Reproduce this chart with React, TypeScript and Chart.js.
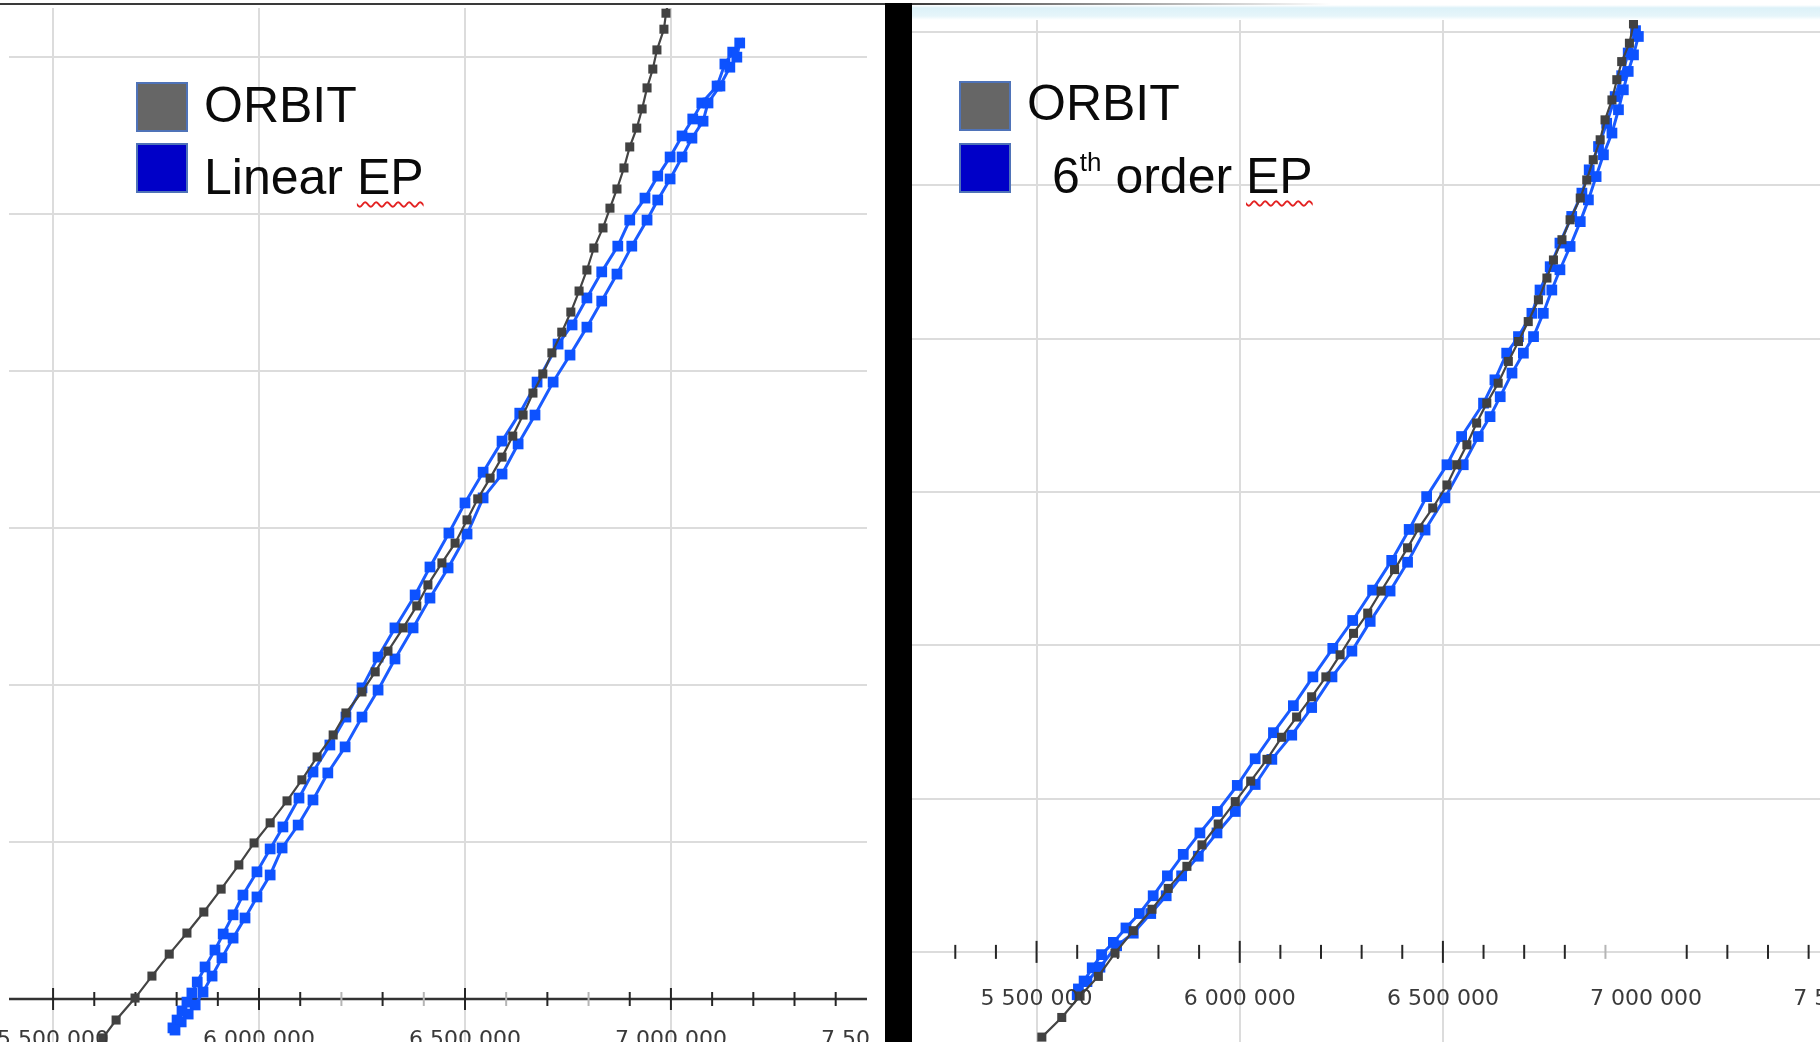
import React, { useEffect, useRef } from 'react';
import { Chart, registerables } from 'chart.js';

Chart.register(...registerables);

// ---------------- LEFT PANEL : ORBIT vs Linear EP ----------------
const LEFT_ORBIT_X = [
  5621000, 5653000, 5699000, 5740000, 5782000, 5825000, 5866000, 5908000, 5951000, 5988000,
  6027000, 6068000, 6104000, 6141000, 6180000, 6211000, 6250000, 6282000, 6313000, 6350000,
  6383000, 6410000, 6444000, 6476000, 6505000, 6531000, 6561000, 6590000, 6616000, 6641000,
  6665000, 6689000, 6711000, 6735000, 6757000, 6777000, 6796000, 6813000, 6835000, 6852000,
  6869000, 6886000, 6900000, 6917000, 6930000, 6942000, 6956000, 6966000, 6983000, 6988000, 6993000,
];
const LEFT_ORBIT_Y = [
  -124000, -67000, 3000, 73000, 143000, 210000, 277000, 350000, 427000, 497000,
  561000, 631000, 698000, 771000, 841000, 911000, 978000, 1042000, 1108000, 1182000,
  1252000, 1319000, 1389000, 1452000, 1526000, 1593000, 1659000, 1726000, 1793000, 1860000,
  1930000, 1991000, 2058000, 2124000, 2188000, 2255000, 2322000, 2392000, 2456000, 2519000,
  2580000, 2647000, 2714000, 2774000, 2835000, 2902000, 2962000, 3023000, 3089000, 3140000, 3172000,
];
// Linear EP: closed thin loop, up one edge then down the other
const LEFT_EP_UP_X = [
  5791000, 5801000, 5813000, 5825000, 5837000, 5850000, 5869000, 5893000, 5913000, 5937000,
  5961000, 5995000, 6027000, 6058000, 6097000, 6131000, 6172000, 6211000, 6250000, 6289000,
  6330000, 6379000, 6415000, 6461000, 6500000, 6544000, 6590000, 6633000, 6675000, 6726000,
  6760000, 6796000, 6832000, 6871000, 6900000, 6937000, 6968000, 6998000, 7027000, 7053000,
  7075000, 7112000, 7131000, 7150000, 7167000,
];
const LEFT_EP_UP_Y = [
  -92000, -67000, -38000, -10000, 19000, 54000, 102000, 156000, 207000, 268000,
  331000, 405000, 478000, 548000, 640000, 723000, 809000, 898000, 991000, 1089000,
  1182000, 1287000, 1376000, 1484000, 1580000, 1678000, 1777000, 1866000, 1965000, 2086000,
  2147000, 2233000, 2316000, 2398000, 2481000, 2551000, 2621000, 2682000, 2749000, 2803000,
  2854000, 2908000, 2978000, 3016000, 3045000,
];
const LEFT_EP_DOWN_X = [
  7160000, 7143000, 7119000, 7090000, 7078000, 7051000, 7027000, 6998000, 6968000, 6942000,
  6905000, 6869000, 6832000, 6796000, 6755000, 6714000, 6670000, 6629000, 6590000, 6544000,
  6505000, 6459000, 6415000, 6374000, 6330000, 6289000, 6250000, 6209000, 6167000, 6131000,
  6095000, 6056000, 6027000, 5995000, 5966000, 5937000, 5910000, 5886000, 5864000, 5845000,
  5828000, 5811000, 5796000,
];
const LEFT_EP_DOWN_Y = [
  3000000, 2968000, 2908000, 2854000, 2796000, 2742000, 2682000, 2612000, 2545000, 2481000,
  2398000, 2309000, 2223000, 2140000, 2051000, 1965000, 1860000, 1768000, 1672000, 1596000,
  1481000, 1373000, 1277000, 1182000, 1083000, 984000, 898000, 803000, 720000, 634000,
  554000, 481000, 395000, 325000, 258000, 194000, 131000, 73000, 22000, -19000,
  -48000, -73000, -99000,
];

// ---------------- RIGHT PANEL : ORBIT vs 6th order EP ----------------
const RIGHT_ORBIT_X = [
  5513000, 5562000, 5607000, 5652000, 5693000, 5738000, 5784000, 5824000, 5870000, 5907000,
  5947000, 5989000, 6027000, 6067000, 6103000, 6140000, 6177000, 6212000, 6247000, 6280000,
  6315000, 6348000, 6381000, 6413000, 6441000, 6475000, 6510000, 6534000, 6559000, 6583000,
  6608000, 6636000, 6661000, 6686000, 6710000, 6735000, 6756000, 6772000, 6793000, 6813000,
  6838000, 6854000, 6870000, 6887000, 6899000, 6916000, 6928000, 6940000, 6959000, 6969000,
];
const RIGHT_ORBIT_Y = [
  -278000, -214000, -144000, -80000, -4000, 69000, 139000, 207000, 279000, 349000,
  417000, 490000, 557000, 628000, 700000, 766000, 832000, 897000, 969000, 1039000,
  1105000, 1177000, 1247000, 1318000, 1383000, 1448000, 1523000, 1589000, 1654000, 1725000,
  1790000, 1855000, 1926000, 1991000, 2056000, 2127000, 2198000, 2257000, 2323000, 2388000,
  2459000, 2518000, 2584000, 2649000, 2714000, 2779000, 2845000, 2904000, 2964000, 3027000,
];
const RIGHT_EP_UP_X = [
  5600000, 5617000, 5637000, 5660000, 5689000, 5720000, 5753000, 5787000, 5822000, 5861000,
  5902000, 5945000, 5994000, 6038000, 6083000, 6132000, 6180000, 6229000, 6278000, 6327000,
  6374000, 6417000, 6460000, 6510000, 6546000, 6600000, 6628000, 6657000, 6686000, 6719000,
  6739000, 6764000, 6788000, 6817000, 6842000, 6860000, 6883000, 6903000, 6924000, 6940000,
  6956000, 6974000,
];
const RIGHT_EP_UP_Y = [
  -140000, -95000, -52000, -9000, 31000, 78000, 125000, 183000, 248000, 318000,
  388000, 458000, 543000, 630000, 715000, 803000, 897000, 990000, 1081000, 1180000,
  1277000, 1378000, 1485000, 1589000, 1681000, 1790000, 1866000, 1953000, 2007000, 2083000,
  2159000, 2235000, 2312000, 2399000, 2475000, 2551000, 2627000, 2703000, 2790000, 2858000,
  2932000, 3005000,
];
const RIGHT_EP_DOWN_X = [
  6981000, 6969000, 6956000, 6944000, 6932000, 6916000, 6895000, 6877000, 6858000, 6838000,
  6813000, 6788000, 6768000, 6747000, 6723000, 6698000, 6670000, 6641000, 6616000, 6587000,
  6550000, 6505000, 6456000, 6413000, 6370000, 6321000, 6276000, 6227000, 6177000, 6128000,
  6079000, 6038000, 5989000, 5944000, 5898000, 5857000, 5819000, 5781000, 5738000, 5697000,
  5656000, 5624000, 5603000,
];
const RIGHT_EP_DOWN_Y = [
  2986000, 2926000, 2872000, 2812000, 2747000, 2671000, 2600000, 2529000, 2453000, 2382000,
  2301000, 2225000, 2159000, 2083000, 2007000, 1953000, 1888000, 1811000, 1746000, 1681000,
  1589000, 1481000, 1376000, 1271000, 1177000, 1078000, 981000, 897000, 797000, 707000,
  628000, 546000, 458000, 388000, 312000, 248000, 183000, 125000, 61000, 20000,
  -50000, -97000, -121000,
];

// ---------------- Axis ticks / grids ----------------
const LEFT_X_TICKS = [
  5500000, 5600000, 5700000, 5800000, 5900000, 6000000, 6100000, 6200000, 6300000, 6400000,
  6500000, 6600000, 6700000, 6800000, 6900000, 7000000, 7100000, 7200000, 7300000, 7400000,
];
const LEFT_X_MAJOR = [5500000, 6000000, 6500000, 7000000];
const LEFT_X_FAINT = [6200000, 6400000, 6600000, 6800000];
const LEFT_X_LABELS = [5500000, 6000000, 6500000, 7000000, 7500000];
const LEFT_X_GRID = [5500000, 6000000, 6500000, 7000000];
const LEFT_Y_GRID = [500000, 1000000, 1500000, 2000000, 2500000, 3000000];

const RIGHT_X_TICKS = [
  5300000, 5400000, 5500000, 5600000, 5700000, 5800000, 5900000, 6000000, 6100000, 6200000,
  6300000, 6400000, 6500000, 6600000, 6700000, 6800000, 6900000, 7100000, 7200000, 7300000, 7400000,
];
const RIGHT_X_MAJOR = [5500000, 6000000, 6500000];
const RIGHT_X_FAINT = [6900000];
const RIGHT_X_LABELS = [5500000, 6000000, 6500000, 7000000, 7500000];
const RIGHT_X_GRID = [5500000, 6000000, 6500000];
const RIGHT_Y_GRID = [0, 500000, 1000000, 1500000, 2000000, 2500000, 3000000];

const SERIES_ORBIT = 'ORBIT';
const SERIES_LINEAR = 'Linear EP';
const SERIES_SIXTH = '6th order EP';

const fmt = (v: number) => String(v).replace(/\B(?=(\d{3})+(?!\d))/g, ' ');
const toPts = (xs: number[], ys: number[]) => xs.map((x, i) => ({ x, y: ys[i] }));

type AxisCfg = {
  ticks: number[];
  major: number[];
  faint: number[];
  labels: number[];
  axisLine: boolean;
  labelOffset: number;
  clipRight: number;
};

function axisPlugin(cfg: AxisCfg) {
  return {
    id: 'zeroAxis',
    beforeDatasetsDraw(chart: any) {
      const { ctx, chartArea } = chart;
      const xs = chart.scales.x;
      const ys = chart.scales.y;
      const y0 = ys.getPixelForValue(0);
      ctx.save();
      if (cfg.axisLine) {
        ctx.strokeStyle = '#333';
        ctx.lineWidth = 2.6;
        ctx.beginPath();
        ctx.moveTo(chartArea.left, y0);
        ctx.lineTo(chartArea.right, y0);
        ctx.stroke();
      }
      for (const t of cfg.ticks) {
        const px = xs.getPixelForValue(t);
        const len = cfg.major.includes(t) ? 11 : 7;
        ctx.strokeStyle = cfg.faint.includes(t) ? '#b5b5b5' : '#262626';
        ctx.lineWidth = 2;
        ctx.beginPath();
        ctx.moveTo(px, y0 - len);
        ctx.lineTo(px, y0 + len);
        ctx.stroke();
      }
      ctx.restore();
    },
    afterDraw(chart: any) {
      const { ctx } = chart;
      const xs = chart.scales.x;
      const ys = chart.scales.y;
      const y0 = ys.getPixelForValue(0);
      ctx.save();
      ctx.beginPath();
      ctx.rect(0, 0, cfg.clipRight, chart.height);
      ctx.clip();
      ctx.font = '22px "DejaVu Sans", sans-serif';
      ctx.fillStyle = '#3a3a3a';
      ctx.textAlign = 'center';
      ctx.textBaseline = 'alphabetic';
      (ctx as any).filter = 'blur(0.5px)';
      for (const v of cfg.labels) {
        ctx.fillText(fmt(v), xs.getPixelForValue(v), y0 + cfg.labelOffset);
      }
      ctx.restore();
    },
  };
}

type PanelProps = {
  width: number;
  height: number;
  xMin: number;
  xMax: number;
  yMin: number;
  yMax: number;
  padding: { left: number; right: number; top: number; bottom: number };
  orbitX: number[];
  orbitY: number[];
  epX: number[];
  epY: number[];
  epLabel: string;
  xGrid: number[];
  yGrid: number[];
  axis: AxisCfg;
};

function Panel(p: PanelProps) {
  const ref = useRef<HTMLCanvasElement>(null);
  useEffect(() => {
    const chart = new Chart(ref.current as HTMLCanvasElement, {
      type: 'scatter',
      data: {
        datasets: [
          {
            label: SERIES_ORBIT,
            data: toPts(p.orbitX, p.orbitY),
            showLine: true,
            borderColor: '#444444',
            borderWidth: 2.2,
            pointStyle: 'rect',
            pointRadius: 6.4,
            pointBackgroundColor: '#414141',
            pointBorderColor: '#414141',
            pointBorderWidth: 0,
          },
          {
            label: p.epLabel,
            data: toPts(p.epX, p.epY),
            showLine: true,
            borderColor: '#1a5bff',
            borderWidth: 3,
            pointStyle: 'rect',
            pointRadius: 7.6,
            pointBackgroundColor: '#0d52ff',
            pointBorderColor: '#0d52ff',
            pointBorderWidth: 0,
          },
        ],
      },
      options: {
        responsive: false,
        animation: false,
        events: [],
        layout: { padding: p.padding, autoPadding: false },
        plugins: { legend: { display: false }, tooltip: { enabled: false } },
        scales: {
          x: {
            type: 'linear',
            min: p.xMin,
            max: p.xMax,
            border: { display: false },
            ticks: { display: false },
            grid: { drawTicks: false, color: '#dcdcdc', lineWidth: 2 },
            afterBuildTicks: (s: any) => {
              s.ticks = p.xGrid.map((v) => ({ value: v }));
            },
          },
          y: {
            type: 'linear',
            min: p.yMin,
            max: p.yMax,
            border: { display: false },
            ticks: { display: false },
            grid: { drawTicks: false, color: '#dcdcdc', lineWidth: 2 },
            afterBuildTicks: (s: any) => {
              s.ticks = p.yGrid.map((v) => ({ value: v }));
            },
          },
        },
      } as any,
      plugins: [axisPlugin(p.axis)],
    });
    return () => chart.destroy();
  }, []);
  return <canvas ref={ref} width={p.width} height={p.height} style={{ display: 'block', width: p.width, height: p.height }} />;
}

const legendFont = '50px "Liberation Sans", Arial, sans-serif';

function Swatch({ left, top, color }: { left: number; top: number; color: string }) {
  return (
    <div
      style={{
        position: 'absolute',
        left,
        top,
        width: 52,
        height: 50,
        background: color,
        border: '2px solid #4f73b8',
        boxSizing: 'border-box',
      }}
    />
  );
}

function LegendText({ left, top, children }: { left: number; top: number; children: React.ReactNode }) {
  return (
    <div
      style={{
        position: 'absolute',
        left,
        top,
        font: legendFont,
        lineHeight: '50px',
        color: '#0a0a0a',
        whiteSpace: 'nowrap',
      }}
    >
      {children}
    </div>
  );
}

const wavy: React.CSSProperties = {
  textDecorationLine: 'underline',
  textDecorationStyle: 'wavy',
  textDecorationColor: '#e32222',
  textDecorationThickness: '1.5px',
  textUnderlineOffset: '7px',
};

export default function App() {
  return (
    <div style={{ position: 'fixed', left: 0, top: 0, width: 1820, height: 1042, background: '#fff', overflow: 'hidden' }}>
      <div style={{ position: 'absolute', left: 0, top: 0 }}>
        <Panel
          width={886}
          height={1042}
          xMin={5393000}
          xMax={7476000}
          yMin={-137000}
          yMax={3182000}
          padding={{ left: 9, right: 19, top: 0, bottom: 0 }}
          orbitX={LEFT_ORBIT_X}
          orbitY={LEFT_ORBIT_Y}
          epX={[...LEFT_EP_UP_X, ...LEFT_EP_DOWN_X]}
          epY={[...LEFT_EP_UP_Y, ...LEFT_EP_DOWN_Y]}
          epLabel={SERIES_LINEAR}
          xGrid={LEFT_X_GRID}
          yGrid={LEFT_Y_GRID}
          axis={{
            ticks: LEFT_X_TICKS,
            major: LEFT_X_MAJOR,
            faint: LEFT_X_FAINT,
            labels: LEFT_X_LABELS,
            axisLine: true,
            labelOffset: 47,
            clipRight: 870,
          }}
        />
      </div>
      <div style={{ position: 'absolute', left: 911, top: 0 }}>
        <Panel
          width={909}
          height={1042}
          xMin={5191000}
          xMax={7428000}
          yMin={-294000}
          yMax={3105000}
          padding={{ left: 0, right: 0, top: 0, bottom: 0 }}
          orbitX={RIGHT_ORBIT_X}
          orbitY={RIGHT_ORBIT_Y}
          epX={[...RIGHT_EP_UP_X, ...RIGHT_EP_DOWN_X]}
          epY={[...RIGHT_EP_UP_Y, ...RIGHT_EP_DOWN_Y]}
          epLabel={SERIES_SIXTH}
          xGrid={RIGHT_X_GRID}
          yGrid={RIGHT_Y_GRID}
          axis={{
            ticks: RIGHT_X_TICKS,
            major: RIGHT_X_MAJOR,
            faint: RIGHT_X_FAINT,
            labels: RIGHT_X_LABELS,
            axisLine: false,
            labelOffset: 53,
            clipRight: 909,
          }}
        />
      </div>

      {/* top decorations */}
      <div style={{ position: 'absolute', left: 0, top: 0, width: 886, height: 8, background: '#fff' }} />
      <div style={{ position: 'absolute', left: 0, top: 3, width: 886, height: 2, background: '#3a3a3a' }} />
      <div
        style={{
          position: 'absolute',
          left: 911,
          top: 0,
          width: 909,
          height: 20,
          background: 'linear-gradient(to bottom, #ffffff 0px, #ffffff 5px, #dcf1f8 8px, #e6f5fa 16px, #ffffff 20px)',
        }}
      />
      <div
        style={{
          position: 'absolute',
          left: 911,
          top: 3,
          width: 420,
          height: 2,
          background: 'linear-gradient(to right, #3a3a3a, rgba(58,58,58,0))',
        }}
      />
      {/* black divider */}
      <div style={{ position: 'absolute', left: 885, top: 3, width: 27, height: 1039, background: '#000' }} />

      {/* left legend */}
      <Swatch left={136} top={82} color="#666666" />
      <Swatch left={136} top={143} color="#0000c8" />
      <LegendText left={204} top={80}>{SERIES_ORBIT}</LegendText>
      <LegendText left={204} top={152}>
        Linear <span style={wavy}>EP</span>
      </LegendText>

      {/* right legend */}
      <Swatch left={959} top={81} color="#666666" />
      <Swatch left={959} top={143} color="#0000c8" />
      <LegendText left={1027} top={78}>{SERIES_ORBIT}</LegendText>
      <LegendText left={1052} top={151}>
        6<span style={{ fontSize: 26, position: 'relative', top: -22 }}>th</span> order <span style={wavy}>EP</span>
      </LegendText>
    </div>
  );
}
